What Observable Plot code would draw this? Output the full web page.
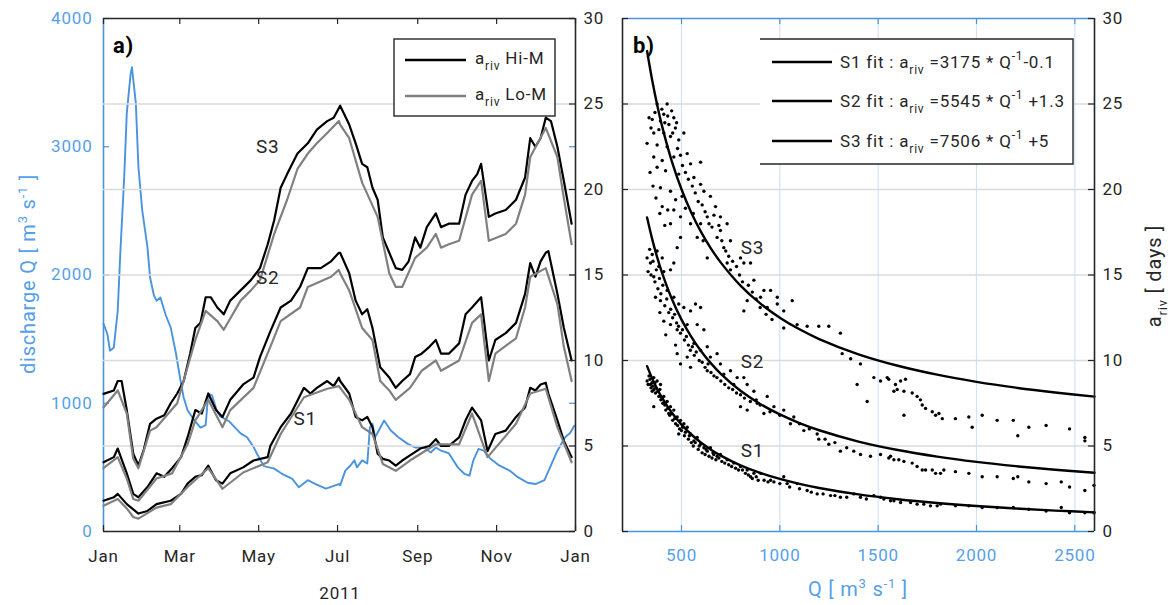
<!DOCTYPE html>
<html><head><meta charset="utf-8">
<script src="https://cdn.jsdelivr.net/npm/d3@7"></script>
<script src="https://cdn.jsdelivr.net/npm/@observablehq/plot@0.6"></script>
<style>
html,body{margin:0;padding:0;background:#fff;}
#wrap{position:relative;width:1173px;height:605px;overflow:hidden;background:#fff;}
#wrap > svg{position:absolute;left:0;top:0;}
#wrap text{letter-spacing:0.8px;}
</style></head>
<body><div id="wrap"></div>
<script>
// ---------- tick labels / categories ----------
const monthTicks = ["2011-01-01","2011-03-01","2011-05-01","2011-07-01","2011-09-01","2011-11-01","2012-01-01"];
const dayTicks = [0,5,10,15,20,25,30];
const gridDays = [5,10,15,20,25];
const qTicksLeft = [0,1000,2000,3000,4000];
const qTicksRight = [500,1000,1500,2000,2500];

// ---------- panel a: daily series [day of year 2011, value] ----------
const discharge = [[0,1620],[3,1540],[5,1410],[8,1435],[11,1720],[13,2170],[16,2760],[18,3260],[21,3570],[22,3620],[25,3340],[27,2840],[30,2500],[34,2215],[36,1980],[39,1840],[41,1800],[44,1825],[48,1690],[52,1590],[56,1390],[60,1150],[62,1045],[65,945],[70,870],[75,810],[79,830],[81,1075],[84,1060],[87,960],[90,900],[97,860],[106,765],[111,735],[116,660],[119,600],[124,510],[132,490],[138,450],[146,410],[151,345],[158,400],[164,370],[172,335],[182,370],[183,360],[187,475],[191,515],[194,555],[196,500],[200,555],[204,530],[206,810],[208,840],[210,735],[213,790],[217,865],[222,790],[228,735],[235,685],[241,655],[248,655],[253,615],[257,655],[261,630],[267,610],[274,500],[279,450],[283,435],[286,555],[290,645],[294,630],[299,570],[306,515],[314,475],[321,420],[328,380],[334,370],[341,400],[346,515],[351,630],[357,735],[361,770],[364,825]];

const s3Hi = [[0,8.05],[8,8.25],[11,8.8],[14,8.8],[18,7.1],[23,4.55],[27,3.86],[31,4.74],[36,6.3],[41,6.6],[47,6.8],[52,7.5],[57,8.07],[62,8.8],[67,10.4],[71,11.9],[75,12.2],[79,13.7],[83,13.7],[88,13.1],[93,12.7],[98,13.5],[106,14.1],[114,14.7],[121,15.4],[127,16.8],[132,18.2],[137,20.1],[142,20.9],[150,22.1],[158,22.7],[165,23.5],[173,24.0],[178,24.2],[183,24.9],[190,23.8],[195,22.7],[200,21.5],[204,21.3],[208,20.1],[212,19.4],[216,17.2],[221,16.3],[226,15.4],[231,15.3],[236,15.8],[241,17.2],[245,16.6],[250,17.8],[257,18.6],[261,17.8],[267,18.0],[275,18.0],[280,19.7],[285,20.5],[289,20.9],[292,21.5],[298,18.4],[303,18.6],[311,18.8],[319,19.4],[326,20.7],[330,23.0],[334,22.5],[338,23.0],[342,24.2],[346,24.0],[351,22.5],[356,20.5],[362,18.0]];
const s3Lo = [[0,7.25],[11,8.25],[18,6.9],[23,4.25],[27,3.7],[36,5.9],[41,6.1],[57,7.5],[71,11.2],[79,12.9],[88,12.3],[93,11.8],[106,13.5],[114,14.1],[121,14.7],[132,17.4],[142,19.4],[150,21.2],[158,22.1],[165,22.7],[173,23.3],[182,24.0],[183,23.8],[190,23.0],[200,20.4],[212,18.4],[221,15.1],[226,14.3],[231,14.3],[241,16.0],[250,16.6],[257,17.4],[261,16.6],[267,16.8],[275,17.0],[285,19.7],[292,20.5],[298,17.0],[311,17.4],[319,18.0],[326,19.7],[330,21.9],[342,23.6],[351,21.9],[356,19.5],[362,16.8]];
const s2Hi = [[0,4.05],[8,4.35],[11,4.85],[18,3.4],[23,2.2],[27,2.0],[34,2.6],[41,3.4],[47,3.2],[53,3.7],[60,4.35],[65,5.5],[71,7.1],[76,6.9],[81,8.07],[87,7.1],[92,6.7],[98,7.7],[108,8.6],[116,9.0],[121,10.2],[129,11.7],[137,13.1],[145,13.5],[152,14.3],[158,15.4],[168,15.4],[176,15.8],[182,16.3],[183,16.3],[190,15.1],[195,13.5],[200,12.7],[204,13.0],[208,11.9],[214,9.6],[221,9.0],[226,8.4],[231,8.8],[237,9.2],[241,10.2],[246,10.4],[252,10.8],[257,11.2],[261,10.4],[267,10.4],[275,11.0],[280,12.7],[285,13.1],[292,13.7],[298,10.0],[303,11.2],[311,11.6],[319,12.2],[326,13.9],[330,15.7],[334,14.9],[338,15.8],[342,16.3],[344,16.4],[351,13.9],[356,11.9],[362,10.0]];
const s2Lo = [[0,3.7],[11,4.35],[18,3.1],[23,1.9],[27,1.8],[41,3.1],[53,3.4],[65,5.1],[71,6.5],[81,7.7],[92,6.1],[98,7.1],[116,8.4],[129,10.8],[137,12.3],[152,13.1],[158,14.3],[176,14.9],[182,15.3],[183,15.1],[190,14.1],[200,11.9],[208,11.2],[214,8.8],[221,8.25],[226,7.7],[237,8.4],[246,9.4],[257,10.0],[261,9.4],[275,10.0],[285,12.2],[292,12.7],[298,8.8],[303,10.4],[319,11.3],[326,13.1],[330,14.9],[342,15.4],[351,13.3],[356,10.8],[362,8.8]];
const s1Hi = [[0,1.8],[8,2.0],[11,2.2],[18,1.6],[27,1.05],[34,1.2],[41,1.6],[52,1.8],[60,2.2],[65,2.8],[71,3.2],[76,3.3],[81,3.85],[87,3.0],[92,2.8],[98,3.4],[108,3.75],[116,4.15],[127,4.35],[129,5.0],[137,6.1],[145,6.9],[155,8.4],[160,8.07],[165,8.4],[173,8.8],[178,8.5],[182,9.0],[183,8.8],[190,8.07],[195,6.7],[200,6.5],[204,6.7],[208,6.1],[212,4.55],[216,4.25],[221,4.15],[226,3.85],[231,4.15],[237,4.45],[245,4.85],[252,5.0],[257,5.4],[261,5.0],[267,5.0],[275,5.5],[280,6.5],[285,7.25],[292,6.5],[297,4.7],[303,5.7],[311,5.9],[319,6.7],[326,7.25],[330,8.4],[334,8.25],[338,8.6],[342,8.7],[344,8.07],[351,6.5],[356,5.3],[362,4.35]];
const s1Lo = [[0,1.5],[11,1.9],[18,1.35],[23,0.85],[27,0.75],[41,1.4],[52,1.6],[65,2.6],[81,3.7],[92,2.5],[108,3.45],[127,4.05],[137,5.7],[155,7.85],[173,8.35],[182,8.5],[190,7.7],[200,6.1],[208,5.7],[216,3.95],[226,3.55],[237,4.15],[257,5.1],[275,5.1],[285,6.9],[297,4.35],[319,6.3],[330,8.07],[342,8.35],[351,6.1],[362,4.05]];

const leftLabels = [{s:"S3",doy:127,v:22.5},{s:"S2",doy:127,v:14.85},{s:"S1",doy:156,v:6.6}];

// ---------- panel b: scatter [Q, a_riv days] ----------
const s3Pts = [[376,25.0],[427,25.0],[410,24.4],[461,24.2],[351,24.1],[393,24.0],[436,23.8],[469,23.6],[359,23.3],[410,23.3],[444,23.1],[486,22.9],[325,22.7],[376,22.6],[427,22.5],[512,23.3],[359,21.9],[402,21.7],[461,21.9],[529,22.1],[376,21.3],[419,21.1],[486,20.9],[546,21.5],[597,21.6],[563,20.7],[597,20.3],[614,19.9],[393,20.1],[444,19.9],[503,19.6],[647,19.6],[673,19.0],[698,18.4],[631,18.4],[597,18.0],[402,19.0],[461,18.8],[495,18.4],[546,18.0],[444,18.0],[495,17.2],[478,16.6],[631,16.0],[698,17.6],[732,18.0],[681,17.2],[715,16.6],[749,17.0],[800,16.0],[817,15.7],[749,15.3],[851,15.7],[732,15.7],[868,14.7],[919,14.1],[953,14.1],[987,13.7],[902,13.7],[834,13.5],[817,12.9],[936,13.1],[987,13.3],[1020,12.9],[1063,13.5],[1020,11.9],[1088,12.1],[1139,12.0],[1198,12.0],[1249,12.0],[1308,11.6],[1317,10.4],[1360,10.1],[1410,9.8],[1393,8.6],[1444,7.6],[1478,9.0],[1546,9.0],[1512,8.8],[1588,8.6],[1597,8.3],[1554,8.9],[1580,8.2],[1614,8.8],[1639,8.9],[1631,8.2],[1631,6.8],[1673,8.1],[1698,7.9],[1715,7.7],[1724,7.4],[1741,7.2],[1775,7.0],[1792,6.8],[1809,6.9],[1826,6.6],[1893,6.6],[1961,6.7],[1978,6.1],[2029,6.8],[2105,6.5],[2187,6.5],[2210,5.6],[2266,6.1],[2354,6.2],[2473,6.0],[2551,5.5],[2551,5.3],
  [335,24.2],[345,23.6],[365,24.5],[385,23.5],[400,24.7],[415,23.9],[430,24.3],[450,24.6],[455,23.3],[475,23.9],[480,22.4],[495,22.0],[505,21.4],[520,21.0],[535,20.6],[555,20.2],[570,19.8],[585,19.3],[605,19.1],[620,18.7],[640,18.0],[655,17.8],[665,18.5],[690,17.9],[705,17.0],[725,16.4],[740,16.1],[760,15.8],[780,15.5],[795,15.0],[810,14.6],[840,14.4],[860,14.0],[880,13.6],[900,13.1],[930,12.7],[960,12.4],[340,21.0],[355,20.2],[370,19.5],[390,18.6],[415,17.9],[430,18.8],[470,19.4],[520,18.9],[560,18.6],[580,17.2],[610,17.0]];
const s2Pts = [[325,16.0],[351,16.2],[376,16.4],[402,16.0],[342,15.7],[385,15.5],[359,14.9],[410,15.2],[444,15.3],[461,15.7],[368,13.7],[393,13.5],[427,14.1],[461,13.7],[486,13.3],[410,12.3],[444,12.1],[478,11.8],[512,13.1],[546,12.9],[571,13.3],[597,13.1],[529,12.1],[580,12.1],[614,11.8],[478,10.4],[495,9.8],[529,10.2],[546,9.6],[563,11.0],[597,10.6],[631,10.8],[647,10.2],[681,10.4],[631,9.4],[698,9.8],[715,9.2],[749,9.4],[783,9.0],[766,8.6],[817,9.0],[834,8.6],[868,8.2],[800,7.3],[834,7.1],[885,7.5],[919,6.9],[936,7.9],[970,7.3],[1020,7.1],[1071,6.7],[1054,6.3],[1122,5.9],[1190,5.7],[1198,5.4],[1249,5.1],[1308,4.7],[1376,4.7],[1410,4.5],[1461,4.4],[1512,4.5],[1563,4.4],[1605,4.2],[1554,4.3],[1580,4.2],[1631,4.1],[1673,4.0],[1698,3.8],[1724,3.6],[1741,3.6],[1775,3.6],[1792,3.4],[1817,3.4],[1834,3.6],[1893,3.5],[1961,3.4],[2029,3.2],[2105,3.2],[2187,3.1],[2210,3.2],[2266,2.9],[2354,2.8],[2431,2.9],[2473,2.6],[2551,2.4],[2597,2.7],
  [330,15.2],[338,16.5],[345,15.0],[355,15.8],[365,14.6],[372,15.3],[380,14.2],[388,14.8],[395,13.9],[405,14.4],[415,13.2],[425,13.6],[435,12.8],[445,13.0],[455,12.5],[465,12.7],[475,12.2],[485,12.0],[495,11.6],[505,11.8],[515,11.2],[525,11.4],[535,10.9],[545,10.6],[555,10.8],[565,10.3],[575,10.5],[590,10.0],[605,9.9],[620,9.6],[635,9.8],[650,9.3],[665,9.1],[680,9.0],[700,8.8],[720,8.6],[740,8.4],[760,8.3],[780,8.1],[800,8.0],[820,7.8],[850,7.6],[880,7.7],[900,7.4],[950,7.0],[1000,6.8],[1100,6.3],[1150,6.0],[1230,5.4],[1280,5.2],[1340,4.9],[420,11.5],[390,12.8],[470,10.9]];
const s1Pts = [[325,8.8],[342,8.6],[359,9.0],[376,8.8],[393,8.6],[351,8.2],[368,8.1],[410,7.9],[427,7.6],[444,7.3],[359,7.3],[461,7.1],[478,6.7],[495,6.5],[512,6.3],[529,6.1],[486,5.7],[546,5.7],[563,5.3],[580,5.5],[597,5.1],[614,4.9],[631,4.7],[647,4.9],[664,4.5],[698,4.5],[681,4.4],[732,4.2],[766,4.0],[800,3.8],[834,3.6],[851,3.2],[868,3.4],[902,3.4],[953,3.0],[1020,3.2],[1037,2.8],[1088,2.8],[1139,2.4],[1190,2.2],[1258,2.1],[1308,2.0],[1376,2.2],[1410,2.0],[1478,2.1],[1529,1.9],[1580,1.8],[1512,2.0],[1563,1.8],[1614,1.7],[1665,1.7],[1698,1.6],[1732,1.6],[1766,1.5],[1800,1.5],[1817,1.6],[1893,1.5],[1961,1.5],[2029,1.4],[2105,1.4],[2187,1.4],[2266,1.3],[2354,1.2],[2431,1.4],[2473,1.1],[2551,1.1],[2597,1.1],
  [330,8.6],[335,9.1],[340,8.9],[345,8.4],[350,8.7],[355,8.5],[360,8.3],[365,8.7],[370,8.4],[380,8.2],[385,7.9],[390,8.3],[395,7.7],[400,7.8],[405,7.5],[415,7.4],[420,7.1],[430,7.2],[435,6.9],[440,6.8],[450,6.9],[455,6.5],[465,6.6],[470,6.3],[480,6.2],[490,6.0],[500,5.9],[505,6.1],[515,5.6],[520,5.8],[535,5.4],[540,5.6],[550,5.2],[560,5.0],[570,5.2],[585,4.8],[590,5.0],[605,4.6],[620,4.5],[625,4.8],[640,4.4],[655,4.3],[660,4.6],[675,4.2],[690,4.3],[705,4.1],[720,4.0],[740,3.9],[755,3.8],[775,3.7],[790,3.6],[810,3.6],[825,3.4],[840,3.3],[860,3.1],[880,3.2],[890,3.0],[920,3.0],[940,2.9],[970,2.9],[1000,2.8],[1050,2.6],[1100,2.5],[1160,2.3],[1220,2.2],[1280,2.1],[1340,2.0],[1440,1.9]];

// fits printed in the legend: a_riv = A * Q^-1 + B
const fitNames = ["S1","S2","S3"];
const fitA = [3175, 5545, 7506];
const fitB = [-0.1, 1.3, 5];
const fitQ = [325,350,375,400,450,500,550,600,650,700,800,900,1000,1100,1200,1400,1600,1800,2000,2200,2400,2600];
const rightLabels = [{s:"S3",q:861,v:16.6},{s:"S2",q:861,v:9.9},{s:"S1",q:861,v:4.7}];

// ---------- styles ----------
const W = 1173, H = 605;
const blue = "#4a93df", blueText = "#55a0ea", ink = "#262626", grayLine = "#808080";
const gridC = "#dadada", vgridC = "#d2e3f7";
const font = "Roboto, sans-serif";
const day = n => new Date(Date.UTC(2011, 0, 1 + n));
const start = new Date(Date.UTC(2011,0,1)), end = new Date(Date.UTC(2012,0,1));
const monthDates = monthTicks.map(s => new Date(s + "T00:00:00Z"));
const frameW = 472, frameH = 513, tk = 6;
const svgStyle = `font-family:${font};font-size:17px;background:transparent;overflow:visible;color:${ink};`;
const leftMargins = {width:W, height:H, marginLeft:103, marginRight:W-575, marginTop:18, marginBottom:H-531, style:svgStyle};
const rightMargins = {width:W, height:H, marginLeft:622, marginRight:W-1094, marginTop:18, marginBottom:H-531, style:svgStyle};
const fmt = d => String(d);

const wrap = document.getElementById("wrap");

// panel a, discharge layer (left axis)
const qPlot = Plot.plot({
  ...leftMargins,
  x: {type:"utc", domain:[start,end], axis:null},
  y: {domain:[0,4000]},
  marks: [
    Plot.line(discharge, {x: d => day(d[0]), y: d => d[1], stroke: blue, strokeWidth: 1.9}),
    Plot.ruleX([start], {stroke: blue, strokeWidth: 1.6}),
    Plot.tickY(qTicksLeft, {y: d => d, insetRight: frameW - tk, stroke: blue, strokeWidth: 1.2}),
    Plot.tickY(qTicksLeft, {y: d => d, insetLeft: frameW - tk, stroke: blue, strokeWidth: 1.2}),
    Plot.axisY({anchor:"left", ticks: qTicksLeft, tickSize: 0, tickPadding: 11, tickFormat: fmt, fontSize: 17, fill: blueText, label: null})
  ]
});
wrap.append(qPlot);

// panel a, a_riv layer (right axis)
const lineOpts = (c) => ({x: d => day(d[0]), y: d => d[1], stroke: c, strokeWidth: 2.2});
const dPlot = Plot.plot({
  ...leftMargins,
  x: {type:"utc", domain:[start,end]},
  y: {domain:[0,30]},
  marks: [
    Plot.ruleY(gridDays, {y: d => d, stroke: gridC, strokeWidth: 1.3}),
    Plot.line(s3Hi, lineOpts("#000")),
    Plot.line(s2Hi, lineOpts("#000")),
    Plot.line(s1Hi, lineOpts("#000")),
    Plot.line(s3Lo, lineOpts(grayLine)),
    Plot.line(s2Lo, lineOpts(grayLine)),
    Plot.line(s1Lo, lineOpts(grayLine)),
    Plot.ruleY([0,30], {y: d => d, stroke: ink, strokeWidth: 1.6}),
    Plot.ruleX([end], {stroke: ink, strokeWidth: 1.6}),
    Plot.tickX(monthDates, {x: d => d, insetTop: frameH - tk, stroke: ink, strokeWidth: 1.2}),
    Plot.tickX(monthDates, {x: d => d, insetBottom: frameH - tk, stroke: ink, strokeWidth: 1.2}),
    Plot.tickY(dayTicks, {y: d => d, insetLeft: frameW - tk, stroke: ink, strokeWidth: 1.2}),
    Plot.axisX({ticks: monthDates, tickSize: 0, tickPadding: 18, tickFormat: d3.utcFormat("%b"), fontSize: 17, fill: ink, label: null}),
    Plot.axisY({anchor:"right", ticks: dayTicks, tickSize: 0, tickPadding: 8, tickFormat: fmt, fontSize: 17, fill: ink, label: null}),
    Plot.text(leftLabels, {x: d => day(d.doy), y: d => d.v, text: d => d.s, fontSize: 19, fill: ink})
  ]
});
wrap.append(dPlot);

// panel b
const fitRows = fitNames.flatMap((s, i) => fitQ.map(q => ({s, q, a: fitA[i] / q + fitB[i]})));
const dotOpts = {x: d => d[0], y: d => d[1], r: 1.7, fill: "#000", stroke: "none"};
const rPlot = Plot.plot({
  ...rightMargins,
  x: {domain:[200,2600]},
  y: {domain:[0,30]},
  marks: [
    Plot.ruleX(qTicksRight, {x: d => d, stroke: vgridC, strokeWidth: 1.2}),
    Plot.ruleY(gridDays, {y: d => d, stroke: gridC, strokeWidth: 1.3}),
    Plot.dot(s3Pts, dotOpts),
    Plot.dot(s2Pts, dotOpts),
    Plot.dot(s1Pts, dotOpts),
    Plot.line(fitRows, {x: "q", y: "a", z: "s", stroke: "#000", strokeWidth: 2.4, curve: "catmull-rom"}),
    Plot.ruleY([0,30], {y: d => d, stroke: blue, strokeWidth: 1.6}),
    Plot.ruleX([200,2600], {x: d => d, stroke: ink, strokeWidth: 1.6}),
    Plot.tickX(qTicksRight, {x: d => d, insetTop: frameH - tk, stroke: blue, strokeWidth: 1.2}),
    Plot.tickX(qTicksRight, {x: d => d, insetBottom: frameH - tk, stroke: blue, strokeWidth: 1.2}),
    Plot.tickY(dayTicks, {y: d => d, insetLeft: frameW - tk, stroke: ink, strokeWidth: 1.2}),
    Plot.tickY(dayTicks, {y: d => d, insetRight: frameW - tk, stroke: ink, strokeWidth: 1.2}),
    Plot.axisX({ticks: qTicksRight, tickSize: 0, tickPadding: 17, tickFormat: fmt, fontSize: 17, fill: blueText, label: null}),
    Plot.axisY({anchor:"right", ticks: dayTicks, tickSize: 0, tickPadding: 8, tickFormat: fmt, fontSize: 17, fill: ink, label: null}),
    Plot.text(rightLabels, {x: "q", y: "v", text: "s", fontSize: 19, fill: ink})
  ]
});
wrap.append(rPlot);

// ---------- annotations: axis titles, panel letters, legends ----------
const sub = (t) => `<tspan font-size="12" dy="6">${t}</tspan>`;
const unit = `m<tspan font-size="13" dy="-8">3</tspan><tspan dy="8"> s</tspan><tspan font-size="13" dy="-8">-1</tspan><tspan dy="8"> ]</tspan>`;
const ann = `
<svg width="${W}" height="${H}" xmlns="http://www.w3.org/2000/svg" style="font-family:${font};font-size:17px;white-space:pre;pointer-events:none">
  <text x="113" y="53" font-size="22" font-weight="bold" fill="#000">a)</text>
  <text x="633" y="53" font-size="22" font-weight="bold" fill="#000">b)</text>
  <text transform="translate(35,274) rotate(-90)" text-anchor="middle" font-size="20" fill="${blueText}">discharge Q  [ ${unit}</text>
  <text x="340" y="599" text-anchor="middle" fill="${ink}">2011</text>
  <text x="858" y="596" text-anchor="middle" font-size="20" fill="${blueText}">Q [ ${unit}</text>
  <text transform="translate(1161,276) rotate(-90)" text-anchor="middle" font-size="20" fill="${ink}">a<tspan font-size="13" dy="6">riv</tspan><tspan dy="-6">  [ days ]</tspan></text>

  <rect x="394" y="39" width="161" height="77" fill="#fff" stroke="${ink}" stroke-width="1.4"/>
  <line x1="405" x2="466" y1="60" y2="60" stroke="#000" stroke-width="2.6"/>
  <line x1="405" x2="466" y1="96" y2="96" stroke="${grayLine}" stroke-width="2.6"/>
  <text x="475" y="63.5" fill="${ink}">a${sub("riv")}<tspan dy="-6"> Hi-M</tspan></text>
  <text x="475" y="99.5" fill="${ink}">a${sub("riv")}<tspan dy="-6"> Lo-M</tspan></text>

  <rect x="760" y="39" width="313" height="125" fill="#fff" stroke="none"/>
  <path d="M760,39H1073V164H760" fill="none" stroke="${ink}" stroke-width="1.4"/>
  <line x1="772" x2="832" y1="62" y2="62" stroke="#000" stroke-width="2.6"/>
  <line x1="772" x2="832" y1="101" y2="101" stroke="#000" stroke-width="2.6"/>
  <line x1="772" x2="832" y1="141" y2="141" stroke="#000" stroke-width="2.6"/>
  <text x="840" y="68" fill="${ink}">S1 fit : a${sub("riv")}<tspan dy="-6"> =3175 * Q</tspan><tspan font-size="12" dy="-8">-1</tspan><tspan dy="8">-0.1</tspan></text>
  <text x="840" y="107" fill="${ink}">S2 fit : a${sub("riv")}<tspan dy="-6"> =5545 * Q</tspan><tspan font-size="12" dy="-8">-1</tspan><tspan dy="8">  +1.3</tspan></text>
  <text x="840" y="147" fill="${ink}">S3 fit : a${sub("riv")}<tspan dy="-6"> =7506 * Q</tspan><tspan font-size="12" dy="-8">-1</tspan><tspan dy="8">  +5</tspan></text>
</svg>`;
wrap.insertAdjacentHTML("beforeend", ann);
</script></body></html>
